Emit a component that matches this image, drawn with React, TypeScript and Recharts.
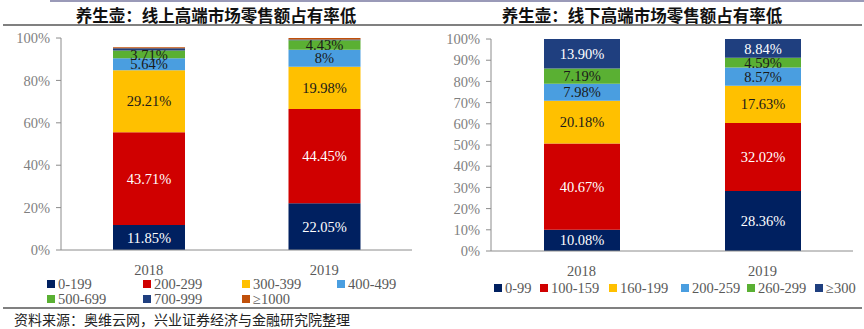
import { Bar, BarChart, LabelList, XAxis, YAxis } from 'recharts';

const years = ['2018', '2019'];

// 线上 (online) price bands, share of retail sales in %
const onlineBands = ['0-199', '200-299', '300-399', '400-499', '500-699', '700-999', '≥1000'];
const on0_199 = ['11.85', '22.05'];
const on200_299 = ['43.71', '44.45'];
const on300_399 = ['29.21', '19.98'];
const on400_499 = ['5.64', '8'];
const on500_699 = ['3.71', '4.43'];
const on700_999 = ['1.0', '0.4'];
const on1000 = ['0.5', '0.7'];

// 线下 (offline) price bands
const offlineBands = ['0-99', '100-159', '160-199', '200-259', '260-299', '≥300'];
const off0_99 = ['10.08', '28.36'];
const off100_159 = ['40.67', '32.02'];
const off160_199 = ['20.18', '17.63'];
const off200_259 = ['7.98', '8.57'];
const off260_299 = ['7.19', '4.59'];
const off300 = ['13.90', '8.84'];

const onlineTicks = [0, 20, 40, 60, 80, 100];
const offlineTicks = [0, 10, 20, 30, 40, 50, 60, 70, 80, 90, 100];

const onlineColors = ['#002060', '#D00000', '#FFC000', '#4A9EE0', '#5AB033', '#1F3F7F', '#C0500A'];
const offlineColors = ['#002060', '#D00000', '#FFC000', '#4A9EE0', '#5AB033', '#1F3F7F'];
const labelColors = ['#ffffff', '#ffffff', '#1a1a1a', '#1a1a1a', '#1a1a1a', '#ffffff', '#ffffff'];

const onlineSeries = [on0_199, on200_299, on300_399, on400_499, on500_699, on700_999, on1000];
const offlineSeries = [off0_99, off100_159, off160_199, off200_259, off260_299, off300];

const SERIF = '"Liberation Serif", "Times New Roman", "Noto Sans CJK SC", serif';
const CJK = '"Noto Sans CJK SC", sans-serif';
const AXIS = '#8c8c8c';

const buildRows = (series: string[][]) =>
  years.map((year, i) => {
    const row: Record<string, string | number> = { year };
    series.forEach((s, k) => {
      const v = Number(s[i]);
      row[`s${k}`] = v;
      row[`l${k}`] = v >= 3 ? `${s[i]}%` : '';
    });
    return row;
  });

type StackProps = {
  series: string[][];
  colors: string[];
  ticks: number[];
  left: number;
  top: number;
  plotBottom: number;
  yWidth: number;
  right: number;
  barSize: number;
};

const Stack = ({ series, colors, ticks, left, top, plotBottom, yWidth, right, barSize }: StackProps) => {
  const rows = buildRows(series);
  const xH = 24;
  return (
    <div style={{ position: 'absolute', left, top: 0 }}>
      <BarChart
        width={432}
        height={329}
        data={rows}
        margin={{ top, right, left: 0, bottom: 329 - plotBottom - xH }}
        barSize={barSize}
      >
        <XAxis
          dataKey='year'
          height={xH}
          tickLine={false}
          axisLine={{ stroke: AXIS }}
          tickMargin={9}
          tick={{ fill: '#595959', fontSize: 14.5, fontFamily: SERIF }}
        />
        <YAxis
          width={yWidth}
          domain={[0, 100]}
          ticks={ticks}
          interval={0}
          tickFormatter={(v) => `${v}%`}
          tickSize={5}
          tickMargin={6}
          tickLine={{ stroke: AXIS }}
          axisLine={{ stroke: AXIS }}
          tick={{ fill: '#7f7f7f', fontSize: 14.5, fontFamily: SERIF }}
        />
        {series.map((_, k) => (
          <Bar key={k} dataKey={`s${k}`} stackId='a' fill={colors[k]} isAnimationActive={false}>
            <LabelList
              dataKey={`l${k}`}
              position='center'
              fill={labelColors[k]}
              fontSize={14.5}
              fontFamily={SERIF}
            />
          </Bar>
        ))}
      </BarChart>
    </div>
  );
};

const LegendItem = ({ name, color, x, y }: { name: string; color: string; x: number; y: number }) => (
  <div
    style={{
      position: 'absolute',
      left: x,
      top: y - 9,
      height: 18,
      display: 'flex',
      alignItems: 'center',
      whiteSpace: 'nowrap',
      fontFamily: SERIF,
      fontSize: 14.5,
      color: '#595959',
    }}
  >
    <span style={{ width: 8, height: 8, background: color, marginRight: 3, display: 'inline-block' }} />
    {name}
  </div>
);

const onlineLegendX = [47, 143, 242, 337];
const offlineLegendX = [494, 540, 609, 681, 747, 815];

export default function App() {
  return (
    <div style={{ position: 'absolute', left: 0, top: 0, width: 864, height: 329, background: '#fff', overflow: 'hidden' }}>
      <div style={{ position: 'absolute', left: 50, top: 0, width: 814, height: 2, background: '#9a9ab8' }} />
      <div
        style={{
          position: 'absolute',
          left: 0,
          width: 432,
          top: 3,
          textAlign: 'center',
          fontFamily: CJK,
          fontWeight: 700,
          fontSize: 16.5,
          color: '#111',
        }}
      >
        养生壶：线上高端市场零售额占有率低
      </div>
      <div
        style={{
          position: 'absolute',
          left: 432,
          width: 420,
          top: 3,
          textAlign: 'center',
          fontFamily: CJK,
          fontWeight: 700,
          fontSize: 16.5,
          color: '#111',
        }}
      >
        养生壶：线下高端市场零售额占有率低
      </div>
      <div style={{ position: 'absolute', left: 3, top: 24, width: 859, height: 2, background: '#808080' }} />

      <Stack
        series={onlineSeries}
        colors={onlineColors}
        ticks={onlineTicks}
        left={0}
        top={38}
        plotBottom={250}
        yWidth={61}
        right={20}
        barSize={72}
      />
      <Stack
        series={offlineSeries}
        colors={offlineColors}
        ticks={offlineTicks}
        left={432}
        top={39}
        plotBottom={251}
        yWidth={59}
        right={11}
        barSize={76}
      />

      {onlineBands.map((name, k) => (
        <LegendItem
          key={name}
          name={name}
          color={onlineColors[k]}
          x={onlineLegendX[k % 4]}
          y={k < 4 ? 284 : 299}
        />
      ))}
      {offlineBands.map((name, k) => (
        <LegendItem key={name} name={name} color={offlineColors[k]} x={offlineLegendX[k]} y={288} />
      ))}

      <div style={{ position: 'absolute', left: 3, top: 307, width: 859, height: 2, background: '#808080' }} />
      <div
        style={{
          position: 'absolute',
          left: 14,
          top: 309,
          fontFamily: CJK,
          fontSize: 14,
          color: '#222',
          whiteSpace: 'nowrap',
        }}
      >
        资料来源：奥维云网，兴业证券经济与金融研究院整理
      </div>
    </div>
  );
}
